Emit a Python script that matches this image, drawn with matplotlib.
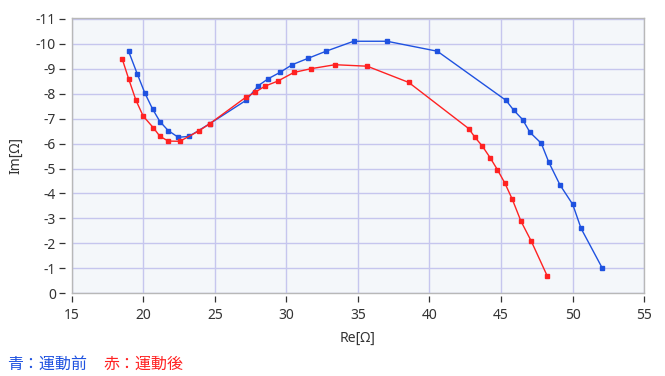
import matplotlib
matplotlib.use("Agg")
import matplotlib.pyplot as plt

plt.rcParams['font.family'] = ['Noto Sans', 'Noto Sans CJK JP']
plt.rcParams['axes.unicode_minus'] = False

# 青：運動前 (before exercise)
blue_re = [18.98, 19.58, 20.12, 20.66, 21.17, 21.75, 22.45, 23.21, 24.66, 27.18,
           28.04, 28.74, 29.55, 30.41, 31.49, 32.77, 34.70, 37.03, 40.55, 45.35,
           45.88, 46.51, 47.02, 47.81, 48.33, 49.12, 50.01, 50.59, 52.08]
blue_im = [-9.70, -8.80, -8.02, -7.38, -6.88, -6.52, -6.25, -6.29, -6.80, -7.73,
           -8.32, -8.60, -8.85, -9.16, -9.41, -9.70, -10.10, -10.10, -9.70, -7.73,
           -7.34, -6.96, -6.45, -6.01, -5.26, -4.34, -3.56, -2.60, -1.00]

# 赤：運動後 (after exercise)
red_re = [18.53, 18.98, 19.49, 20.00, 20.70, 21.17, 21.75, 22.56, 23.87, 24.66,
          27.18, 27.81, 28.50, 29.39, 30.53, 31.72, 33.40, 35.65, 38.55, 42.74,
          43.18, 43.69, 44.23, 44.74, 45.28, 45.79, 46.39, 47.11, 48.23]
red_im = [-9.40, -8.60, -7.74, -7.10, -6.64, -6.29, -6.10, -6.09, -6.50, -6.80,
          -7.86, -8.05, -8.30, -8.50, -8.85, -9.00, -9.16, -9.10, -8.45, -6.60,
          -6.25, -5.90, -5.44, -4.96, -4.40, -3.76, -2.89, -2.09, -0.69]

x_ticks = list(range(15, 56, 5))
y_ticks = list(range(0, -12, -1))

fig = plt.figure(figsize=(6.65, 3.76), dpi=100)
ax = fig.add_axes([0.1077, 0.22, 0.861, 0.732])
ax.set_facecolor('#f4f7fa')

ax.plot(blue_re, blue_im, color='#1f52e0', lw=1.0, marker='s', ms=2.6, zorder=3)
ax.plot(red_re, red_im, color='#ff2222', lw=1.0, marker='s', ms=2.6, zorder=3)

ax.set_xlim(15, 55)
ax.set_ylim(0, -11.03)
ax.set_xticks(x_ticks)
ax.set_yticks(y_ticks)
ax.grid(True, color='#c6c6ee', lw=1.0)
ax.set_axisbelow(True)

# frame drawn in gray, ticks sit a little away from it
frame = '#b8b8b8'
for s in ax.spines.values():
    s.set_color(frame)
    s.set_linewidth(1.0)
ax.spines['left'].set_position(('outward', 5))
ax.spines['left'].set_color('none')
ax.spines['bottom'].set_position(('outward', 2))
ax.spines['bottom'].set_color('none')
ax.axvline(15, color=frame, lw=1.0, clip_on=False, zorder=2)
ax.axhline(0, color=frame, lw=1.0, clip_on=False, zorder=2)

ax.tick_params(axis='both', colors='#333333', labelsize=10, length=4.3, width=0.9)
ax.tick_params(axis='y', pad=2)
ax.tick_params(axis='x', pad=4)

ax.set_xlabel('Re[Ω]', fontsize=10, color='#333333', labelpad=6)
ax.set_ylabel('Im[Ω]', fontsize=10, color='#333333', labelpad=9)

fig.text(0.010, 0.031, '青：運動前', color='#1f52e0', fontsize=11.5, va='center')
fig.text(0.155, 0.031, '赤：運動後', color='#ff2222', fontsize=11.5, va='center')

fig.savefig('out.png', dpi=100)
